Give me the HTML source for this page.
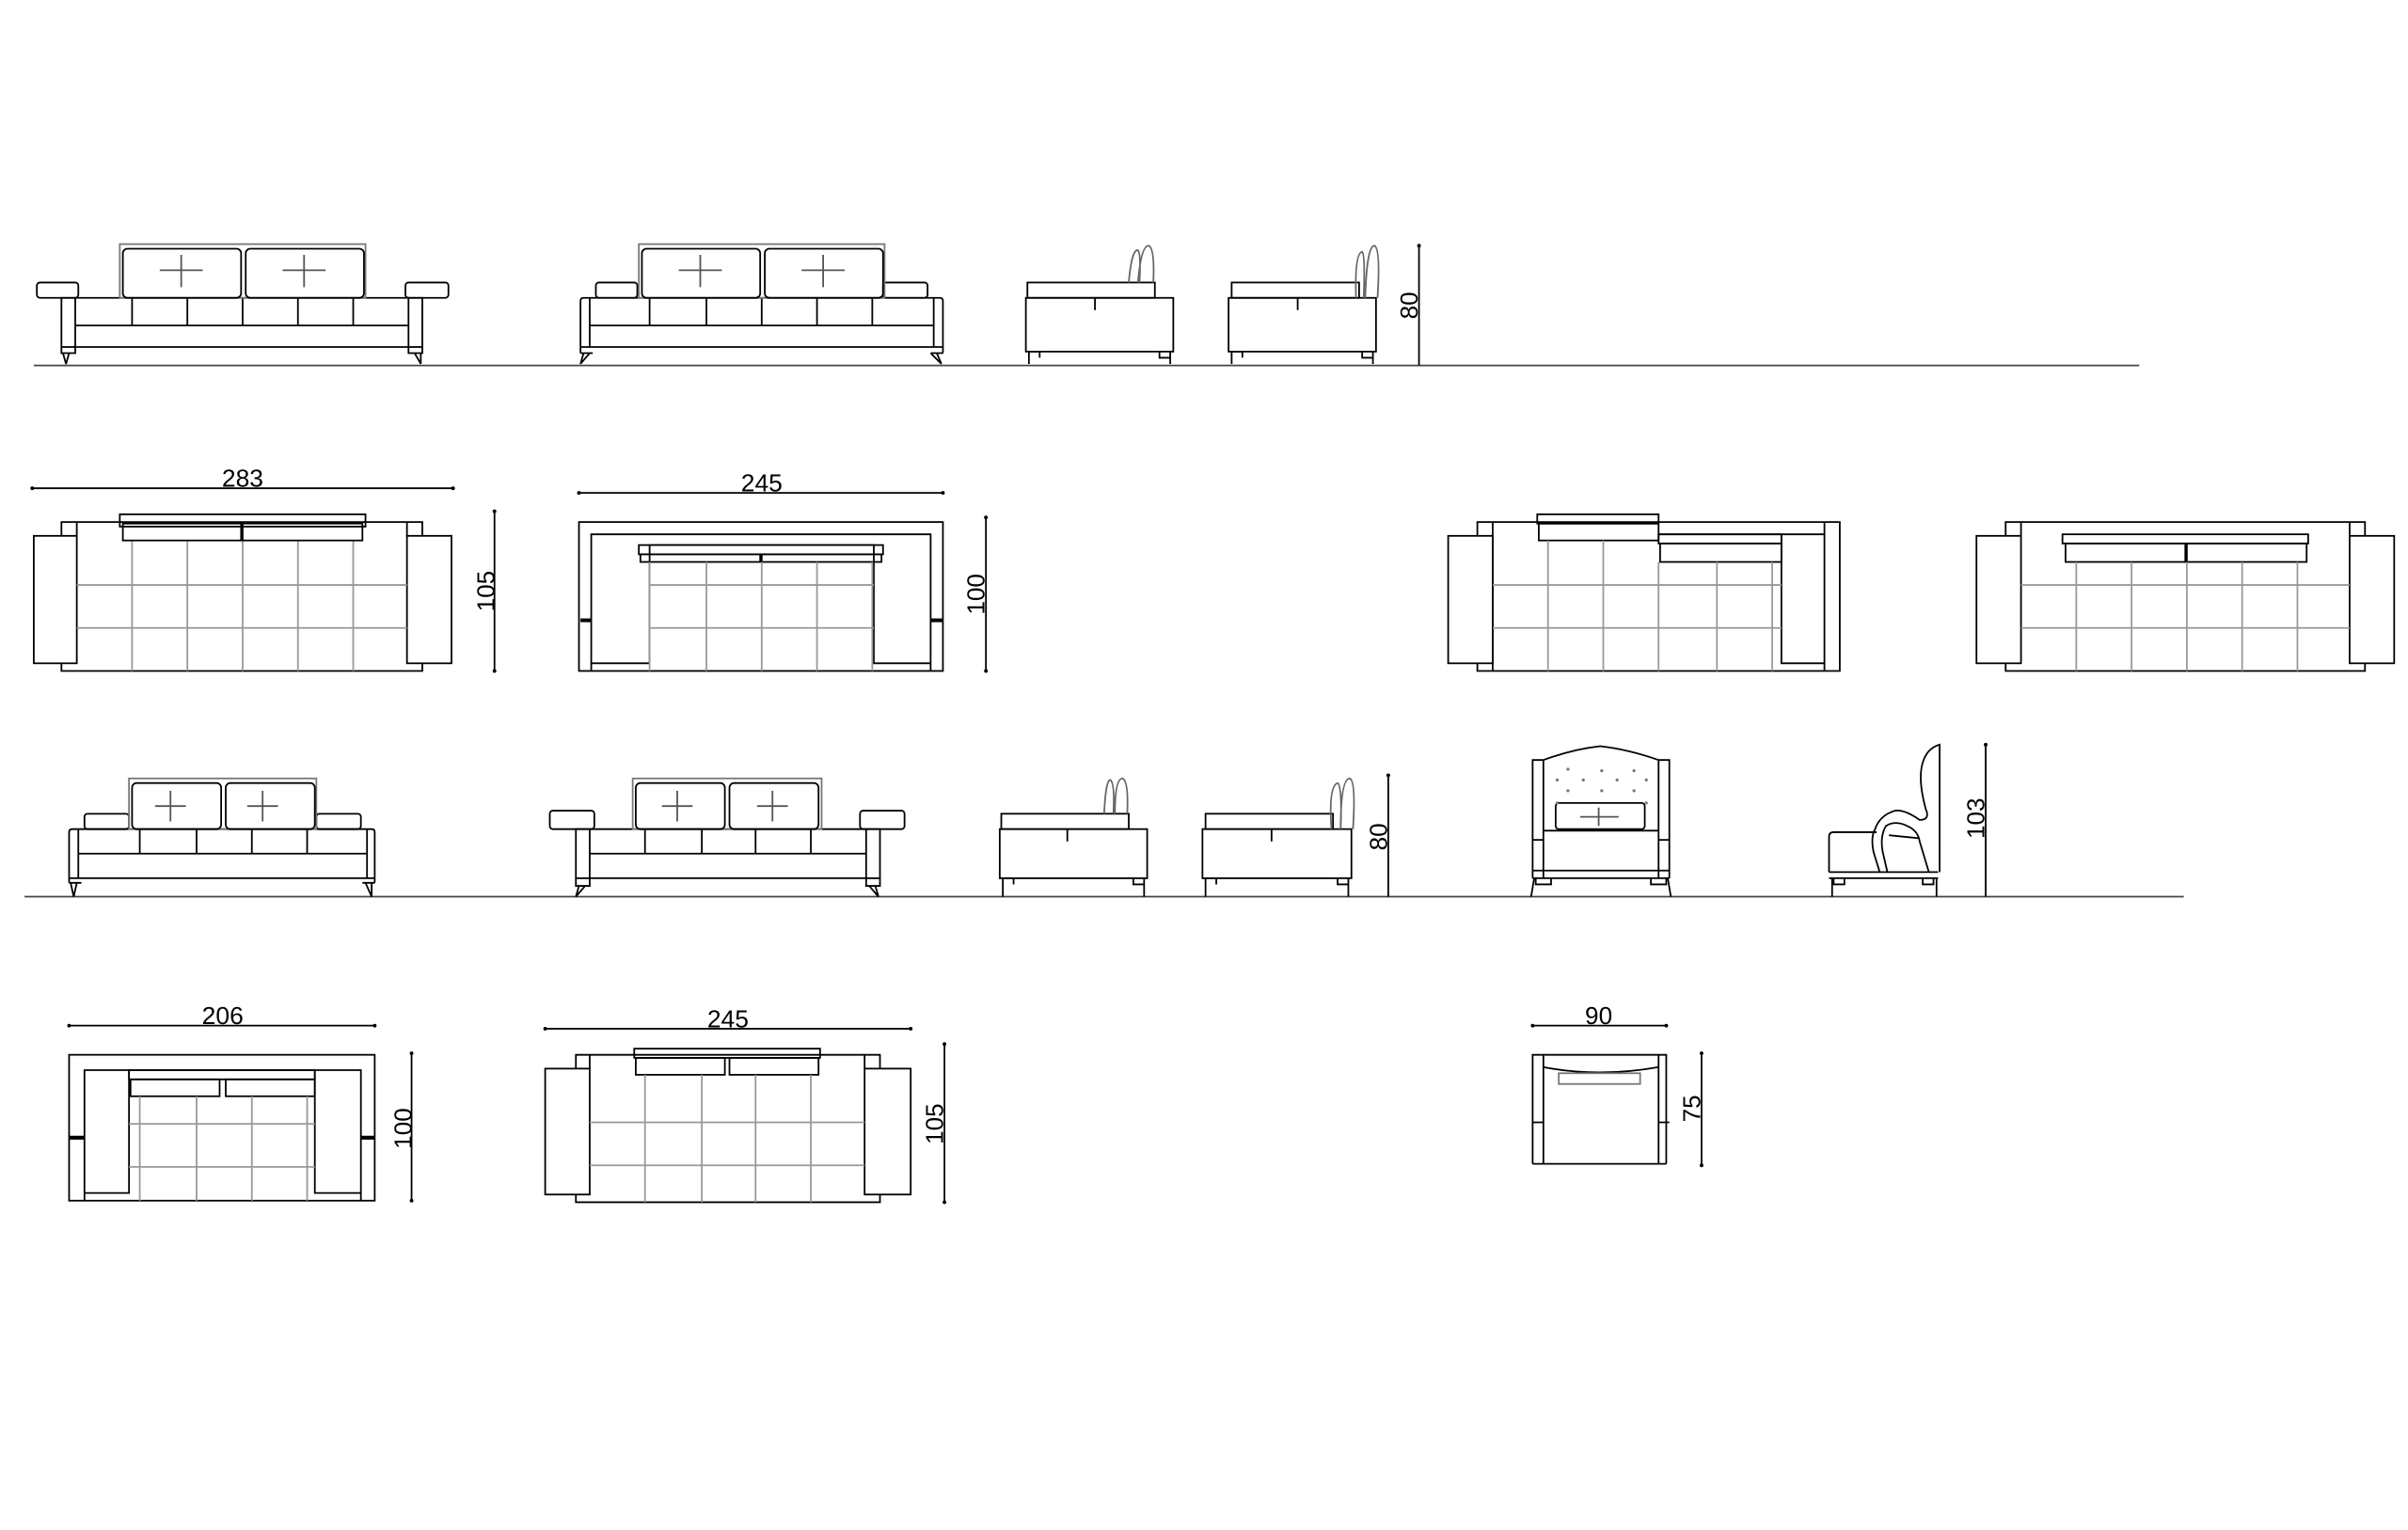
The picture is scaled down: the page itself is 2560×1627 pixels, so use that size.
<!DOCTYPE html>
<html><head><meta charset="utf-8"><style>
html,body{margin:0;padding:0;background:#fff;}
svg{display:block;}
text{font-family:"Liberation Sans",sans-serif;fill:#000;}
</style></head><body>
<svg width="2560" height="1627" viewBox="0 0 1568 996.5" preserveAspectRatio="none" xmlns="http://www.w3.org/2000/svg">
<g fill="none" stroke="#000" stroke-width="1.1">

<line x1="22" y1="238" x2="1393" y2="238" stroke="#444"/>
<rect x="24" y="184" width="27" height="10" rx="2"/>
<rect x="264" y="184" width="28" height="10" rx="2"/>
<rect x="40" y="194" width="9" height="32"/>
<rect x="266" y="194" width="9" height="32"/>
<path d="M49 194H266M49 212H266M49 226H266"/>
<path d="M86 194V212M122 194V212M158 194V212M194 194V212M230 194V212"/>
<path d="M40 226V230H49V226M266 226V230H275V226M41 230L43 237M45 230L43 237M274 230L274 237M270 230L274 237"/>
<rect x="78" y="159" width="160" height="35" stroke="#777"/>
<rect x="80" y="162" width="77" height="32" rx="3"/>
<rect x="160" y="162" width="77" height="32" rx="3"/>
<path d="M104 176H132M118 166V187M184 176H212M198 166V187" stroke="#555"/>
<rect x="388" y="184" width="27" height="10" rx="2"/>
<rect x="575" y="184" width="29" height="10" rx="2"/>
<path d="M378 230V196Q378 194 380 194H612Q614 194 614 196V230"/>
<path d="M384 194V226M608 194V226M384 212H608M378 226H614"/>
<path d="M423 194V212M460 194V212M496 194V212M532 194V212M568 194V212"/>
<path d="M378 230H386M606 230H614M380 230L378 237M384 230L378 237M610 230L613 237M606 230L613 237"/>
<rect x="416" y="159" width="160" height="35" stroke="#777"/>
<rect x="418" y="162" width="77" height="32" rx="3"/>
<rect x="498" y="162" width="77" height="32" rx="3"/>
<path d="M442 176H470M456 166V187M522 176H550M536 166V187" stroke="#555"/>
<rect x="669" y="184" width="83" height="10"/>
<rect x="668" y="194" width="96" height="35"/>
<path d="M713 194V202M670 229V237M762 229V237M670 229H677V233M755 229V233H762"/>
<path d="M735 184Q737 162 741 163Q743 165 742 184M741 184Q743 160 748 160Q752 162 751 184" stroke="#666"/>
<rect x="802" y="184" width="83" height="10"/>
<rect x="800" y="194" width="96" height="35"/>
<path d="M845 194V202M802 229V237M894 229V237M802 229H809V233M887 229V233H894"/>
<path d="M883 194Q882 165 887 164Q889 166 888 194M889 194Q890 160 895 160Q899 162 897 194" stroke="#666"/>
<path d="M924 160V238"/>

<path d="M21 318H295"/>
<rect x="22" y="349" width="28" height="83"/>
<rect x="265" y="349" width="29" height="83"/>
<path d="M40 349V340H275V349M40 432V437H275V432M50 437H265M50 340V349M265 340V349"/>
<g stroke="#999"><path d="M86 352V437M122 352V437M158 352V437M194 352V437M230 352V437M50 381H265M50 409H265"/></g>
<rect x="78" y="335" width="160" height="8"/>
<rect x="80" y="341" width="77" height="11"/>
<rect x="158" y="341" width="78" height="11"/>
<path d="M322 333V437"/>
<path d="M377 321H614"/>
<rect x="377" y="340" width="237" height="97"/>
<path d="M385 437V348H606V437M385 432H423V355H569V432H606"/>
<rect x="416" y="355" width="159" height="6"/>
<rect x="417" y="361" width="78" height="5"/><rect x="496" y="361" width="78" height="5"/>
<path d="M378 404H385M606 404H614" stroke-width="2.5"/>
<g stroke="#999"><path d="M423 366V437M460 366V437M496 366V437M532 366V437M568 366V437M423 381H569M423 409H569"/></g>
<path d="M642 337V437"/>
<rect x="943" y="349" width="29" height="83"/>
<path d="M962 349V340H1198V437H962V432M972 340V437M1188 340V437M1080 348H1188M1160 348V432H1188"/>
<rect x="1001" y="335" width="79" height="6"/>
<rect x="1002" y="341" width="78" height="11"/>
<rect x="1080" y="348" width="80" height="6"/>
<rect x="1081" y="354" width="79" height="12"/>
<g stroke="#999"><path d="M1008 352V437M1044 352V437M1080 366V437M1118 366V437M1154 366V437M972 381H1160M972 409H1160"/></g>
<rect x="1287" y="349" width="29" height="83"/>
<rect x="1530" y="349" width="29" height="83"/>
<path d="M1306 349V340H1540V349M1306 432V437H1540V432M1316 437H1530M1316 340V349M1530 340V349"/>
<rect x="1343" y="348" width="160" height="6"/>
<rect x="1345" y="354" width="78" height="12"/><rect x="1424" y="354" width="78" height="12"/>
<g stroke="#999"><path d="M1352 366V437M1388 366V437M1424 366V437M1460 366V437M1496 366V437M1316 381H1530M1316 409H1530"/></g>

<line x1="16" y1="584" x2="1422" y2="584" stroke="#444"/>
<rect x="55" y="530" width="29" height="10" rx="2"/>
<rect x="206" y="530" width="29" height="10" rx="2"/>
<path d="M45 575V542Q45 540 47 540H242Q244 540 244 542V575"/>
<path d="M51 540V572M239 540V572M51 556H239M45 572H244"/>
<path d="M91 540V556M128 540V556M164 540V556M200 540V556"/>
<path d="M45 575H53M236 575H244M46 575L48 584M50 575L48 584M242 575L242 584M238 575L242 584"/>
<rect x="84" y="507" width="122" height="33" stroke="#777"/>
<rect x="86" y="510" width="58" height="30" rx="3"/>
<rect x="147" y="510" width="58" height="30" rx="3"/>
<path d="M101 525H121M111 515V535M161 525H181M171 515V535" stroke="#555"/>
<rect x="358" y="528" width="29" height="12" rx="2"/>
<rect x="560" y="528" width="29" height="12" rx="2"/>
<rect x="375" y="540" width="9" height="32"/>
<rect x="564" y="540" width="9" height="32"/>
<path d="M384 540H564M384 556H564M384 572H564"/>
<path d="M420 540V556M457 540V556M492 540V556M528 540V556"/>
<path d="M375 572V577H384V572M564 572V577H573V572M377 577L375 584M381 577L375 584M570 577L572 584M566 577L572 584"/>
<rect x="412" y="507" width="123" height="33" stroke="#777"/>
<rect x="414" y="510" width="58" height="30" rx="3"/>
<rect x="475" y="510" width="58" height="30" rx="3"/>
<path d="M431 525H451M441 515V535M493 525H513M503 515V535" stroke="#555"/>
<rect x="652" y="530" width="83" height="10"/>
<rect x="651" y="540" width="96" height="32"/>
<path d="M695 540V548M653 572V584M745 572V584M653 572H660V576M738 572V576H745"/>
<path d="M719 530Q720 508 723 508Q726 510 725 530M726 530Q726 507 731 507Q735 509 734 530" stroke="#666"/>
<rect x="785" y="530" width="83" height="10"/>
<rect x="783" y="540" width="97" height="32"/>
<path d="M828 540V548M785 572V584M878 572V584M785 572H792V576M871 572V576H878"/>
<path d="M867 540Q865 512 871 510Q874 512 873 540M873 540Q873 507 879 507Q883 509 881 540" stroke="#666"/>
<path d="M904 505V584"/>
<path d="M998 572V495H1005V572M1080 572V495H1087V572M1005 495Q1024 488 1042 486Q1060 488 1080 495"/>
<path d="M998 547H1005M1080 547H1087M998 567H1087M998 572H1087M1005 541H1080"/>
<path d="M999 572L997 584M1086 572L1088 584M1000 572V576H1010V572M1075 572V576H1085V572"/>
<rect x="1013" y="523" width="58" height="17" rx="2"/>
<path d="M1029 532H1054M1041 526V538" stroke="#555"/>
<g fill="#777" stroke="none">
<circle cx="1021" cy="501" r="1"/><circle cx="1043" cy="502" r="1"/><circle cx="1064" cy="502" r="1"/>
<circle cx="1014" cy="508" r="1"/><circle cx="1031" cy="508" r="1"/><circle cx="1053" cy="508" r="1"/><circle cx="1072" cy="508" r="1"/>
<circle cx="1021" cy="515" r="1"/><circle cx="1043" cy="515" r="1"/><circle cx="1064" cy="515" r="1"/>
<circle cx="1014" cy="523" r="1"/><circle cx="1072" cy="523" r="1"/></g>
<path d="M1191 568V545Q1191 542 1194 542H1222"/>
<path d="M1191 568H1262M1191 572H1262M1193 572V584M1261 572V584M1194 572V576H1201V572M1252 572V576H1259V572"/>
<path d="M1263 568V485Q1256 487 1253 494Q1248 505 1254 527Q1257 534 1250 534Q1240 527 1234 528Q1224 531 1221 540Q1218 545 1220 555L1224 568M1229 568L1226 555Q1224 545 1228 538Q1234 534 1242 538Q1249 541 1250 548L1256 568M1230 544L1250 546"/>
<path d="M1293 485V584"/>

<path d="M45 668H244"/>
<rect x="45" y="687" width="199" height="95"/>
<path d="M55 782V697H235V782M55 777H84V697M205 697V777H235"/>
<rect x="84" y="697" width="121" height="6"/>
<rect x="85" y="703" width="58" height="11"/><rect x="147" y="703" width="58" height="11"/>
<path d="M45 741H55M235 741H244" stroke-width="2.5"/>
<g stroke="#999"><path d="M91 714V782M128 714V782M164 714V782M200 714V782M84 732H205M84 760H205"/></g>
<path d="M268 686V782"/>
<path d="M355 670H593"/>
<rect x="355" y="696" width="29" height="82"/>
<rect x="563" y="696" width="30" height="82"/>
<path d="M375 696V687H573V696M375 778V783H573V778M384 783H563M384 687V696M563 687V696"/>
<rect x="413" y="683" width="121" height="6"/>
<rect x="414" y="689" width="58" height="11"/><rect x="475" y="689" width="58" height="11"/>
<g stroke="#999"><path d="M420 700V783M457 700V783M492 700V783M528 700V783M384 731H563M384 759H563"/></g>
<path d="M615 680V783"/>
<path d="M998 668H1085"/>
<path d="M998 758V687H1085V758M1005 687V731M1080 687V731M1005 731V758M1080 731V758M998 758H1085"/>
<path d="M1005 695Q1041 702 1080 695"/>
<rect x="1015" y="699" width="53" height="7" stroke="#777"/>
<path d="M998 731H1005M1080 731H1087"/>
<path d="M1108 686V759"/>
</g>

<g fill="#000">
<circle cx="21" cy="318" r="1.2"/><circle cx="295" cy="318" r="1.2"/>
<circle cx="377" cy="321" r="1.2"/><circle cx="614" cy="321" r="1.2"/>
<circle cx="322" cy="333" r="1.2"/><circle cx="322" cy="437" r="1.2"/>
<circle cx="642" cy="337" r="1.2"/><circle cx="642" cy="437" r="1.2"/>
<circle cx="924" cy="160" r="1.2"/><circle cx="904" cy="505" r="1.2"/>
<circle cx="1293" cy="485" r="1.2"/>
<circle cx="45" cy="668" r="1.2"/><circle cx="244" cy="668" r="1.2"/>
<circle cx="355" cy="670" r="1.2"/><circle cx="593" cy="670" r="1.2"/>
<circle cx="998" cy="668" r="1.2"/><circle cx="1085" cy="668" r="1.2"/>
<circle cx="268" cy="686" r="1.2"/><circle cx="268" cy="782" r="1.2"/>
<circle cx="615" cy="680" r="1.2"/><circle cx="615" cy="783" r="1.2"/>
<circle cx="1108" cy="686" r="1.2"/><circle cx="1108" cy="759" r="1.2"/>
</g>

<g font-size="16">
<text x="158" y="317" text-anchor="middle" textLength="27" lengthAdjust="spacingAndGlyphs">283</text>
<text x="496" y="320" text-anchor="middle" textLength="27" lengthAdjust="spacingAndGlyphs">245</text>
<text x="145" y="667" text-anchor="middle" textLength="27" lengthAdjust="spacingAndGlyphs">206</text>
<text x="474" y="669" text-anchor="middle" textLength="27" lengthAdjust="spacingAndGlyphs">245</text>
<text x="1041" y="667" text-anchor="middle">90</text>
<text transform="translate(923,199) rotate(-90)" text-anchor="middle">80</text>
<text transform="translate(322,385) rotate(-90)" text-anchor="middle">105</text>
<text transform="translate(641,387) rotate(-90)" text-anchor="middle">100</text>
<text transform="translate(903,545) rotate(-90)" text-anchor="middle">80</text>
<text transform="translate(1292,533) rotate(-90)" text-anchor="middle">103</text>
<text transform="translate(268,735) rotate(-90)" text-anchor="middle">100</text>
<text transform="translate(614,732) rotate(-90)" text-anchor="middle">105</text>
<text transform="translate(1107,722) rotate(-90)" text-anchor="middle">75</text>
</g>
</svg>
</body></html>
